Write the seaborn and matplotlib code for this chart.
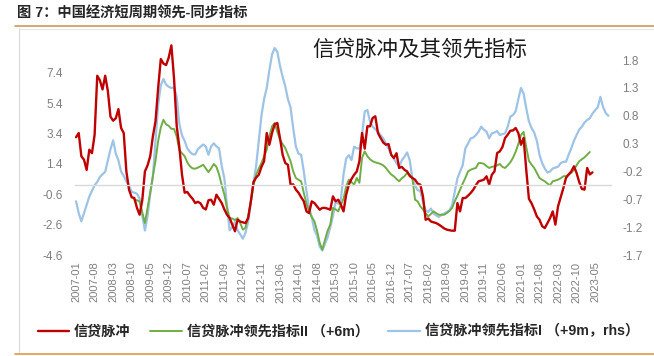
import numpy as np
import pandas as pd
import matplotlib
matplotlib.use("Agg")
import matplotlib.pyplot as plt
from matplotlib.lines import Line2D
import seaborn as sns

# -----------------------------
# DATA (monthly, month 0 = 2007-01)
# -----------------------------
tick_labels = [
    "2007-01", "2007-08", "2008-03", "2008-10", "2009-05", "2009-12",
    "2010-07", "2011-02", "2011-09", "2012-04", "2012-11", "2013-06",
    "2014-01", "2014-08", "2015-03", "2015-10", "2016-05", "2016-12",
    "2017-07", "2018-02", "2018-09", "2019-04", "2019-11", "2020-06",
    "2021-01", "2021-08", "2022-03", "2022-10", "2023-05",
]

# 信贷脉冲 (lhs), starts 2007-01
credit_start = 0
credit_impulse = [
    3.15, 3.43, 1.9, 1.67, 1.0, 2.33, 2.1, 3.3, 7.2, 6.9,
    6.3, 7.2, 6.2, 4.5, 4.24, 4.4, 5.0, 3.76, 3.43, 0.9,
    -0.3, -0.8, -0.85, -1.5, -1.95, -1.0, 0.9, 1.3, 1.9, 3.2,
    4.2, 6.4, 8.3, 8.0, 7.9, 8.4, 9.2, 7.0, 3.9, 2.5,
    0.7, -0.5, -0.45, -0.7, -0.9, -1.18, -1.1, -1.2, -1.5, -1.6,
    -1.0, -0.96, -1.29, -0.63, -0.9, -1.18, -1.6, -1.95, -2.17, -2.6,
    -3.04, -2.28, -2.4, -2.45, -2.5, -2.17, -1.07, 0.2, 0.5, 0.68,
    1.2, 1.57, 3.43, 2.66, 3.43, 4.0, 4.09, 3.1, 2.0, 1.45,
    1.34, 0.03, 0.05, -0.3, -0.5, -0.8, -1.07, -1.73, -1.84, -1.07,
    -1.18, -1.4, -1.62, -1.5, -1.5, -1.55, -1.62, -0.74, -1.07, -0.96,
    -1.29, -1.73, -0.63, 0.03, 0.4, 0.68, 0.9, 1.57, 3.43, 2.4,
    3.87, 3.87, 4.42, 4.53, 3.43, 3.1, 2.8, 2.66, 2.7, 2.0,
    1.78, 2.1, 1.13, 1.2, 1.01, 0.9, 0.6, 0.47, 0.36, 0.1,
    0.03, -0.74, -2.28, -2.2, -2.39, -2.45, -2.5, -2.6, -2.72, -2.85,
    -2.93, -2.97, -3.0, -3.0, -1.18, -1.73, -0.85, -0.85, -0.7, -0.52,
    -0.3, 0.0, 0.25, 0.3, 0.36, 0.58, 0.03, 0.68, 0.9, 2.11,
    2.22, 2.5, 3.1, 3.32, 3.58, 3.6, 3.76, 3.43, 2.66, 3.1,
    1.0, -0.9, -1.2, -1.6, -2.06, -2.28, -2.7, -2.83, -2.5, -2.17,
    -1.73, -2.6, -1.4, -0.8, -0.2, 0.47, 0.7, 0.9, 1.24, 0.8,
    0.2, -0.25, -0.3, 1.13, 0.7, 0.84,
]

# 信贷脉冲领先指标II (+6m, lhs), starts 2008-11
lead2_start = 22
lead2 = [
    -0.96, -1.0, -1.07, -1.8, -2.5, -1.5, -0.5, 0.6,
    1.6, 2.9, 3.8, 4.3, 4.0, 3.9, 3.7, 3.7, 3.2, 2.3,
    2.1, 1.9, 1.5, 1.24, 1.1, 1.08, 1.15, 1.24, 1.34, 1.1,
    0.85, 1.1, 1.39, 1.2, 0.7, 0.0, -0.63, -1.5, -2.17, -2.2,
    -2.3, -2.17, -2.5, -2.93, -2.8, -2.0, -1.07, 0.0, 0.68, 1.1,
    1.45, 1.9, 2.33, 3.2, 3.87, 4.09, 3.5, 3.0, 2.7, 2.44,
    2.0, 1.57, 0.9, 0.47, 0.35, 0.25, -0.52, -1.2, -1.73, -2.1,
    -2.38, -3.0, -3.8, -4.25, -3.6, -3.0, -2.6, -1.5, -1.6, -1.73,
    -1.29, -0.9, -0.08, 0.36, 0.2, 0.03, 0.47, 0.15, 1.8, 2.22,
    1.9, 1.7, 1.57, 1.5, 1.45, 1.39, 1.3, 1.13, 0.9, 0.7,
    0.58, 0.4, 0.25, 0.45, 0.58, 0.8, 0.7, 0.47, -0.96, -1.07,
    -1.4, -1.6, -1.84, -2.06, -1.9, -1.73, -1.85, -1.95, -1.95, -1.95,
    -1.84, -1.7, -1.5, -1.07, -0.7, -0.3, 0.1, 0.47, 0.9, 1.01,
    1.08, 1.13, 1.45, 1.45, 1.4, 1.25, 1.13, 1.2, 1.24, 1.3,
    1.39, 1.2, 1.13, 1.3, 1.5, 1.8, 2.2, 2.7, 3.3, 3.5,
    2.5, 1.6, 1.35, 1.13, 0.8, 0.47, 0.35, 0.25, 0.1, -0.01,
    0.25, 0.3, 0.36, 0.45, 0.58, 0.6, 0.68, 0.8, 1.01, 1.3,
    1.57, 1.7, 1.83, 2.0, 2.18,
]

# 信贷脉冲领先指标I (+9m, rhs), starts 2007-01
lead1_start = 0
lead1 = [
    -0.735, -0.95, -1.095, -0.95, -0.8, -0.65, -0.55, -0.45, -0.386, -0.3,
    -0.25, -0.206, 0.0, 0.2, 0.36, 0.12, 0.0, -0.2, -0.28, -0.38,
    -0.45, -0.566, -0.58, -0.6, -0.686, -0.99, -1.26, -1.0, -0.6, -0.3,
    0.35, 1.0, 1.35, 1.46, 1.36, 1.32, 1.3, 1.31, 1.145, 0.65,
    0.45, 0.35, 0.215, 0.15, 0.11, 0.106, 0.2, 0.245, 0.285, 0.245,
    0.1, 0.25, 0.305, 0.25, 0.215, -0.1, -0.326, -0.81, -1.257, -1.2,
    -1.107, -1.257, -1.33, -1.407, -1.3, -1.1, -0.75, -0.4, -0.1, 0.35,
    0.8, 1.1, 1.3, 1.62, 1.9, 2.016, 1.95, 1.7, 1.5, 1.33,
    1.1, 0.95, 0.575, 0.25, 0.12, 0.1, -0.2, -0.55, -0.85, -1.02,
    -1.25, -1.35, -1.55, -1.62, -1.5, -1.38, -1.2, -1.0, -0.75, -0.78,
    -0.7, -0.25, 0.034, 0.094, 0.004, 0.245, 0.214, 0.214, 0.455, 0.876,
    0.905, 0.695, 0.605, 0.56, 0.515, 0.45, 0.395, 0.3, 0.214, 0.1,
    0.034, -0.05, -0.115, 0.0, 0.065, 0.142, 0.004, -0.326, -0.45, -0.536,
    -0.55, -0.746, -0.9, -0.926, -0.866, -0.956, -0.99, -1.016, -0.98, -0.956,
    -0.926, -0.9, -0.806, -0.566, -0.326, -0.2, -0.086, 0.214, 0.3, 0.395,
    0.41, 0.455, 0.515, 0.605, 0.55, 0.515, 0.395, 0.485, 0.5, 0.526,
    0.455, 0.47, 0.485, 0.605, 0.785, 0.815, 0.88, 1.1, 1.3, 1.2,
    0.935, 0.7, 0.58, 0.5, 0.35, 0.1, -0.05, -0.146, -0.22, -0.2,
    -0.146, -0.13, -0.115, -0.05, -0.026, -0.026, 0.1, 0.214, 0.35, 0.455,
    0.55, 0.605, 0.68, 0.725, 0.755, 0.84, 0.9, 0.95, 1.14, 0.96,
    0.85, 0.8,
]

left_ticks = [-4.6, -2.6, -0.6, 1.4, 3.4, 5.4, 7.4]
right_ticks = [-1.7, -1.2, -0.7, -0.2, 0.3, 0.8, 1.3, 1.8]

# -----------------------------
# STYLE
# -----------------------------
sns.set_theme(style="white")
plt.rcParams["font.family"] = ["Liberation Sans", "Noto Sans CJK SC", "DejaVu Sans"]
plt.rcParams["axes.unicode_minus"] = False

RED = "#C00000"
GREEN = "#70AD47"
BLUE = "#9DC3E6"
TICK_GRAY = "#7F7F7F"


def series_frame(start, values):
    return pd.DataFrame({
        "month": np.arange(len(values)) + start,
        "value": values,
    })


df_red = series_frame(credit_start, credit_impulse)
df_green = series_frame(lead2_start, lead2)
df_blue = series_frame(lead1_start, lead1)

# -----------------------------
# FIGURE
# -----------------------------
fig = plt.figure(figsize=(6.54, 3.56), dpi=100)
ax = fig.add_axes([75 / 654, 101 / 356, 536 / 654, 212.7 / 356])
ax2 = ax.twinx()

sns.lineplot(data=df_blue, x="month", y="value", ax=ax2, color=BLUE,
             linewidth=1.6, legend=False)
sns.lineplot(data=df_green, x="month", y="value", ax=ax, color=GREEN,
             linewidth=1.4, legend=False)
sns.lineplot(data=df_red, x="month", y="value", ax=ax, color=RED,
             linewidth=1.7, legend=False)

# red / green above blue
ax.set_zorder(ax2.get_zorder() + 1)
ax.patch.set_visible(False)

ax.set_xlim(-0.4, 202)
ax.set_ylim(-4.6, 9.4)
ax2.set_ylim(-1.7, 2.12)

ax.set_xlabel("")
ax.set_ylabel("")
ax2.set_xlabel("")
ax2.set_ylabel("")

# category axis crossing at 0 on the left scale
for s in ["top", "right", "left"]:
    ax.spines[s].set_visible(False)
for s in ax2.spines.values():
    s.set_visible(False)
ax.spines["bottom"].set_position(("data", 0))
ax.spines["bottom"].set_color("#D9D9D9")
ax.spines["bottom"].set_linewidth(1.0)

ax.set_xticks(np.arange(len(tick_labels)) * 7)
ax.set_xticklabels(tick_labels, rotation=90, fontsize=8, color=TICK_GRAY)
ax.tick_params(axis="x", direction="out", length=3, width=0.8,
               color="#D9D9D9", pad=52)

ax.set_yticks(left_ticks)
ax.set_yticklabels([f"{t:.1f}" for t in left_ticks], fontsize=8.5, color=TICK_GRAY)
ax.tick_params(axis="y", length=0, pad=9)

ax2.set_yticks(right_ticks)
ax2.set_yticklabels([f"{t:.1f}" for t in right_ticks], fontsize=8.5, color=TICK_GRAY)
ax2.tick_params(axis="y", length=0, pad=8)

ax.grid(False)
ax2.grid(False)

# -----------------------------
# TEXT / FRAME
# -----------------------------
fig.text(17 / 654, 1 - 13.5 / 356, "图 7：中国经济短周期领先-同步指标",
         fontsize=10.3, fontweight="bold", ha="left", va="center")

fig.text(420 / 654, 1 - 50 / 356, "信贷脉冲及其领先指标",
         fontsize=15.5, ha="center", va="center", color="#1a1a1a")

fig.add_artist(Line2D([15 / 654, 1], [1 - 26 / 356] * 2,
                      transform=fig.transFigure, color="#C9995A", lw=1.2))
fig.add_artist(Line2D([15 / 654, 1], [1 - 354 / 356] * 2,
                      transform=fig.transFigure, color="#DE9A45", lw=1.2))
fig.add_artist(Line2D([19 / 654, 19 / 654], [1 - 28 / 356, 1 - 352 / 356],
                      transform=fig.transFigure, color="#D9D9D9", lw=0.8))
fig.add_artist(Line2D([19 / 654, 1], [1 - 28.5 / 356] * 2,
                      transform=fig.transFigure, color="#E6E6E6", lw=0.8))

handles = [
    Line2D([], [], color=RED, lw=1.7),
    Line2D([], [], color=GREEN, lw=1.4),
    Line2D([], [], color=BLUE, lw=1.6),
]
labels = ["信贷脉冲", "信贷脉冲领先指标II （+6m）", "信贷脉冲领先指标I （+9m，rhs）"]
fig.legend(handles, labels, loc="center left", bbox_to_anchor=(38 / 654, 1 - 331.5 / 356),
           ncol=3, frameon=False, handlelength=2.2, handletextpad=0.35,
           columnspacing=1.4, borderaxespad=0, borderpad=0,
           prop={"weight": "bold", "size": 10.2})

fig.savefig("out.png", dpi=100)
plt.close(fig)
